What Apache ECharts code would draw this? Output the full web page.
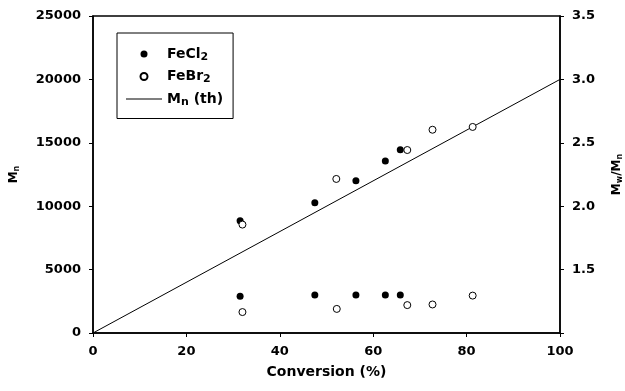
<!DOCTYPE html>
<html><head><meta charset="utf-8">
<script src="https://cdn.jsdelivr.net/npm/echarts@6/dist/echarts.min.js"></script>
<style>html,body{margin:0;padding:0;background:#fff}#c{width:625px;height:391px}</style>
</head><body><div id="c"></div>
<script>
// Conversion (%) and values
const feCl2Conv = [31.5, 47.5, 56.3, 62.6, 65.8];
const feCl2Mn   = [8850, 10280, 12000, 13560, 14450];
const feCl2PDI  = [1.29, 1.30, 1.30, 1.30, 1.30];
const feBr2Conv = [32.0, 52.1, 67.3, 72.7, 81.3];
const feBr2Mn   = [8550, 12150, 14430, 16030, 16250];
const feBr2PDI  = [1.165, 1.19, 1.22, 1.225, 1.295];
const feBr2PDIConv = [32.0, 52.2, 67.3, 72.7, 81.3];
const mnThConv = [0, 100];
const mnThVal  = [0, 20000];

const zip = (a, b) => a.map((v, i) => [v, b[i]]);
const FONT = 'DejaVu Sans';
const chart = echarts.init(document.getElementById('c'));
const rich = {
  a: {fontFamily: FONT, fontWeight: 'bold', fontSize: 14, color: '#000'},
  sub: {fontFamily: FONT, fontWeight: 'bold', fontSize: 11, color: '#000', padding: [6, 0, 0, 0]}
};
const nameRich = {
  a: {fontFamily: FONT, fontWeight: 'bold', fontSize: 12, color: '#000'},
  sub: {fontFamily: FONT, fontWeight: 'bold', fontSize: 8, color: '#000', padding: [6, 0, 0, 0]}
};
const tickLabel = {fontFamily: FONT, fontWeight: 'bold', fontSize: 13, color: '#000', margin: 12};
const filled = {color: '#000', opacity: 1};
const open = {color: '#fff', borderColor: '#000', borderWidth: 1, opacity: 1};
chart.setOption({
  animation: false,
  grid: {left: 93, right: 65, top: 16, bottom: 58, show: true, borderColor: '#000', borderWidth: 1.5,
         containLabel: false, outerBoundsMode: 'none'},
  legend: {
    orient: 'vertical', left: 117, top: 33,
    padding: [14, 10, 11, 9],
    borderColor: '#000', borderWidth: 1,
    itemWidth: 36, itemHeight: 7, itemGap: 7,
    data: ['FeCl2', 'FeBr2', {name: 'Mn (th)', icon: 'path://M0,0H36V1H0Z'}],
    textStyle: {rich: rich},
    formatter: function (n) {
      if (n === 'FeCl2') return '{a|FeCl}{sub|2}';
      if (n === 'FeBr2') return '{a|FeBr}{sub|2}';
      return '{a|M}{sub|n}{a| (th)}';
    }
  },
  xAxis: {
    type: 'value', min: 0, max: 100, interval: 20,
    name: 'Conversion (%)', nameLocation: 'middle', nameGap: 32,
    nameTextStyle: {fontFamily: FONT, fontWeight: 'bold', fontSize: 14, color: '#000'},
    axisLine: {lineStyle: {color: '#000', width: 1.5}},
    axisTick: {length: 4, lineStyle: {color: '#000'}},
    axisLabel: tickLabel,
    splitLine: {show: false}
  },
  yAxis: [{
    type: 'value', min: 0, max: 25000, interval: 5000, position: 'left',
    name: '{a|M}{sub|n}', nameLocation: 'middle', nameGap: 72, nameRotate: 90,
    nameTextStyle: {rich: nameRich},
    axisLine: {show: true, lineStyle: {color: '#000', width: 1.5}},
    axisTick: {show: true, length: 4, lineStyle: {color: '#000'}},
    axisLabel: Object.assign({formatter: v => String(v)}, tickLabel),
    splitLine: {show: false}
  }, {
    type: 'value', min: 1.0, max: 3.5, interval: 0.5, position: 'right',
    name: '{a|M}{sub|w}{a|/M}{sub|n}', nameLocation: 'middle', nameGap: 50, nameRotate: 90,
    nameTextStyle: {rich: nameRich},
    axisLine: {show: true, lineStyle: {color: '#000', width: 1.5}},
    axisTick: {show: true, length: 4, lineStyle: {color: '#000'}},
    axisLabel: Object.assign({formatter: v => v === 1 ? '' : v.toFixed(1)}, tickLabel),
    splitLine: {show: false}
  }],
  series: [
    {name: 'FeCl2', type: 'scatter', yAxisIndex: 0, symbol: 'circle', symbolSize: 7, itemStyle: filled, data: zip(feCl2Conv, feCl2Mn)},
    {name: 'FeBr2', type: 'scatter', yAxisIndex: 0, symbol: 'circle', symbolSize: 7, itemStyle: open, data: zip(feBr2Conv, feBr2Mn)},
    {name: 'Mn (th)', type: 'line', yAxisIndex: 0, symbol: 'none', itemStyle: {color: '#000'}, lineStyle: {color: '#000', width: 1}, data: zip(mnThConv, mnThVal), z: 1},
    {name: 'FeCl2', type: 'scatter', yAxisIndex: 1, symbol: 'circle', symbolSize: 7, itemStyle: filled, data: zip(feCl2Conv, feCl2PDI)},
    {name: 'FeBr2', type: 'scatter', yAxisIndex: 1, symbol: 'circle', symbolSize: 7, itemStyle: open, data: zip(feBr2PDIConv, feBr2PDI)}
  ]
});
</script></body></html>
